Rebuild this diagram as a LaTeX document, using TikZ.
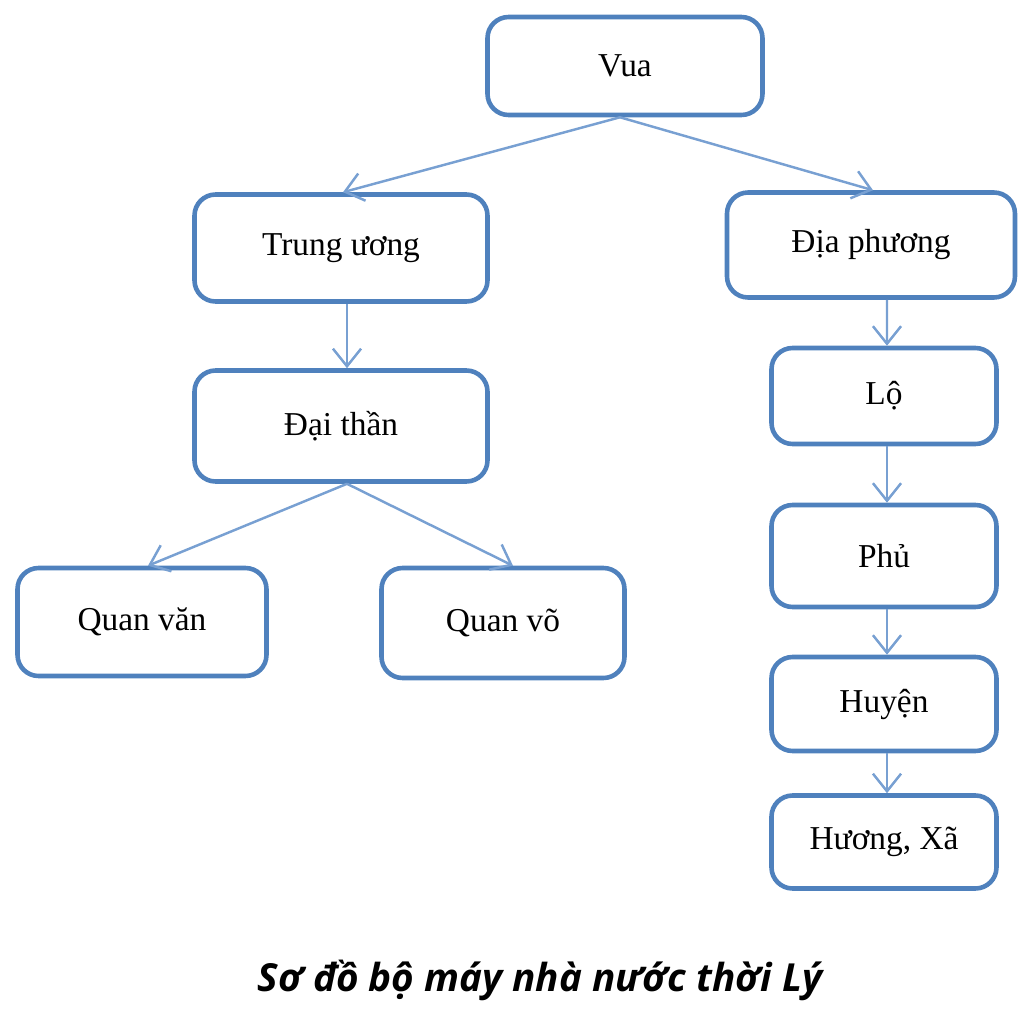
\documentclass[tikz,border=0pt]{standalone}
\usepackage{fontspec}
\setmainfont{Liberation Serif}
\newfontfamily\capfont{Open Sans}
\usetikzlibrary{arrows.meta, positioning, calc}
\definecolor{boxblue}{RGB}{79,129,189}
\definecolor{linkblue}{RGB}{120,160,210}
\begin{document}
\begin{tikzpicture}[
    box/.style={rectangle, draw=boxblue, line width=1.3pt, rounded corners=6pt, fill=white, font=\fontsize{9.5}{11}\selectfont},
    link/.style={-{Straight Barb[length=5pt,width=8pt]}, linkblue, line width=0.7pt}
]
    \useasboundingbox (0,0) rectangle (10.24,-10.10);
    % top level
    \node[box, minimum width=2.75cm, minimum height=0.98cm] (vua) at (6.25,-0.66) {Vua};
    \node[box, minimum width=2.93cm, minimum height=1.07cm] (trung) at (3.41,-2.48) {Trung ương};
    \node[box, minimum width=2.88cm, minimum height=1.05cm] (dia) at (8.71,-2.45) {Địa phương};
    % central branch
    \node[box, minimum width=2.93cm, minimum height=1.11cm] (daithan) at (3.41,-4.26) {Đại thần};
    \node[box, minimum width=2.49cm, minimum height=1.08cm] (van) at (1.42,-6.22) {Quan văn};
    \node[box, minimum width=2.43cm, minimum height=1.10cm] (vo) at (5.03,-6.23) {Quan võ};
    % local branch
    \node[box, minimum width=2.25cm, minimum height=0.96cm] (lo) at (8.84,-3.96) {Lộ};
    \node[box, minimum width=2.25cm, minimum height=1.02cm] (phu) at (8.84,-5.56) {Phủ};
    \node[box, minimum width=2.25cm, minimum height=0.94cm] (huyen) at (8.84,-7.04) {Huyện};
    \node[box, minimum width=2.25cm, minimum height=0.93cm] (xa) at (8.84,-8.42) {Hương, Xã};
    % connectors
    \draw[link] ([xshift=-0.05cm]vua.south) -- ([xshift=0.02cm]trung.north);
    \draw[link] ([xshift=-0.05cm]vua.south) -- ([xshift=0.02cm]dia.north);
    \draw[link] ([xshift=0.06cm]trung.south) -- ([xshift=0.06cm]daithan.north);
    \draw[link] ([xshift=0.06cm]daithan.south) -- ([xshift=0.06cm]van.north);
    \draw[link] ([xshift=0.06cm]daithan.south) -- ([xshift=0.1cm]vo.north);
    \draw[link] ([xshift=0.16cm]dia.south) -- ([xshift=0.03cm]lo.north);
    \draw[link] ([xshift=0.03cm]lo.south) -- ([xshift=0.03cm]phu.north);
    \draw[link] ([xshift=0.03cm]phu.south) -- ([xshift=0.03cm]huyen.north);
    \draw[link] ([xshift=0.03cm]huyen.south) -- ([xshift=0.03cm]xa.north);
    % caption
    \node[font=\capfont\bfseries\itshape\fontsize{11}{13}\selectfont] (caption) at (5.40,-9.80) {Sơ đồ bộ máy nhà nước thời Lý};
\end{tikzpicture}
\end{document}
